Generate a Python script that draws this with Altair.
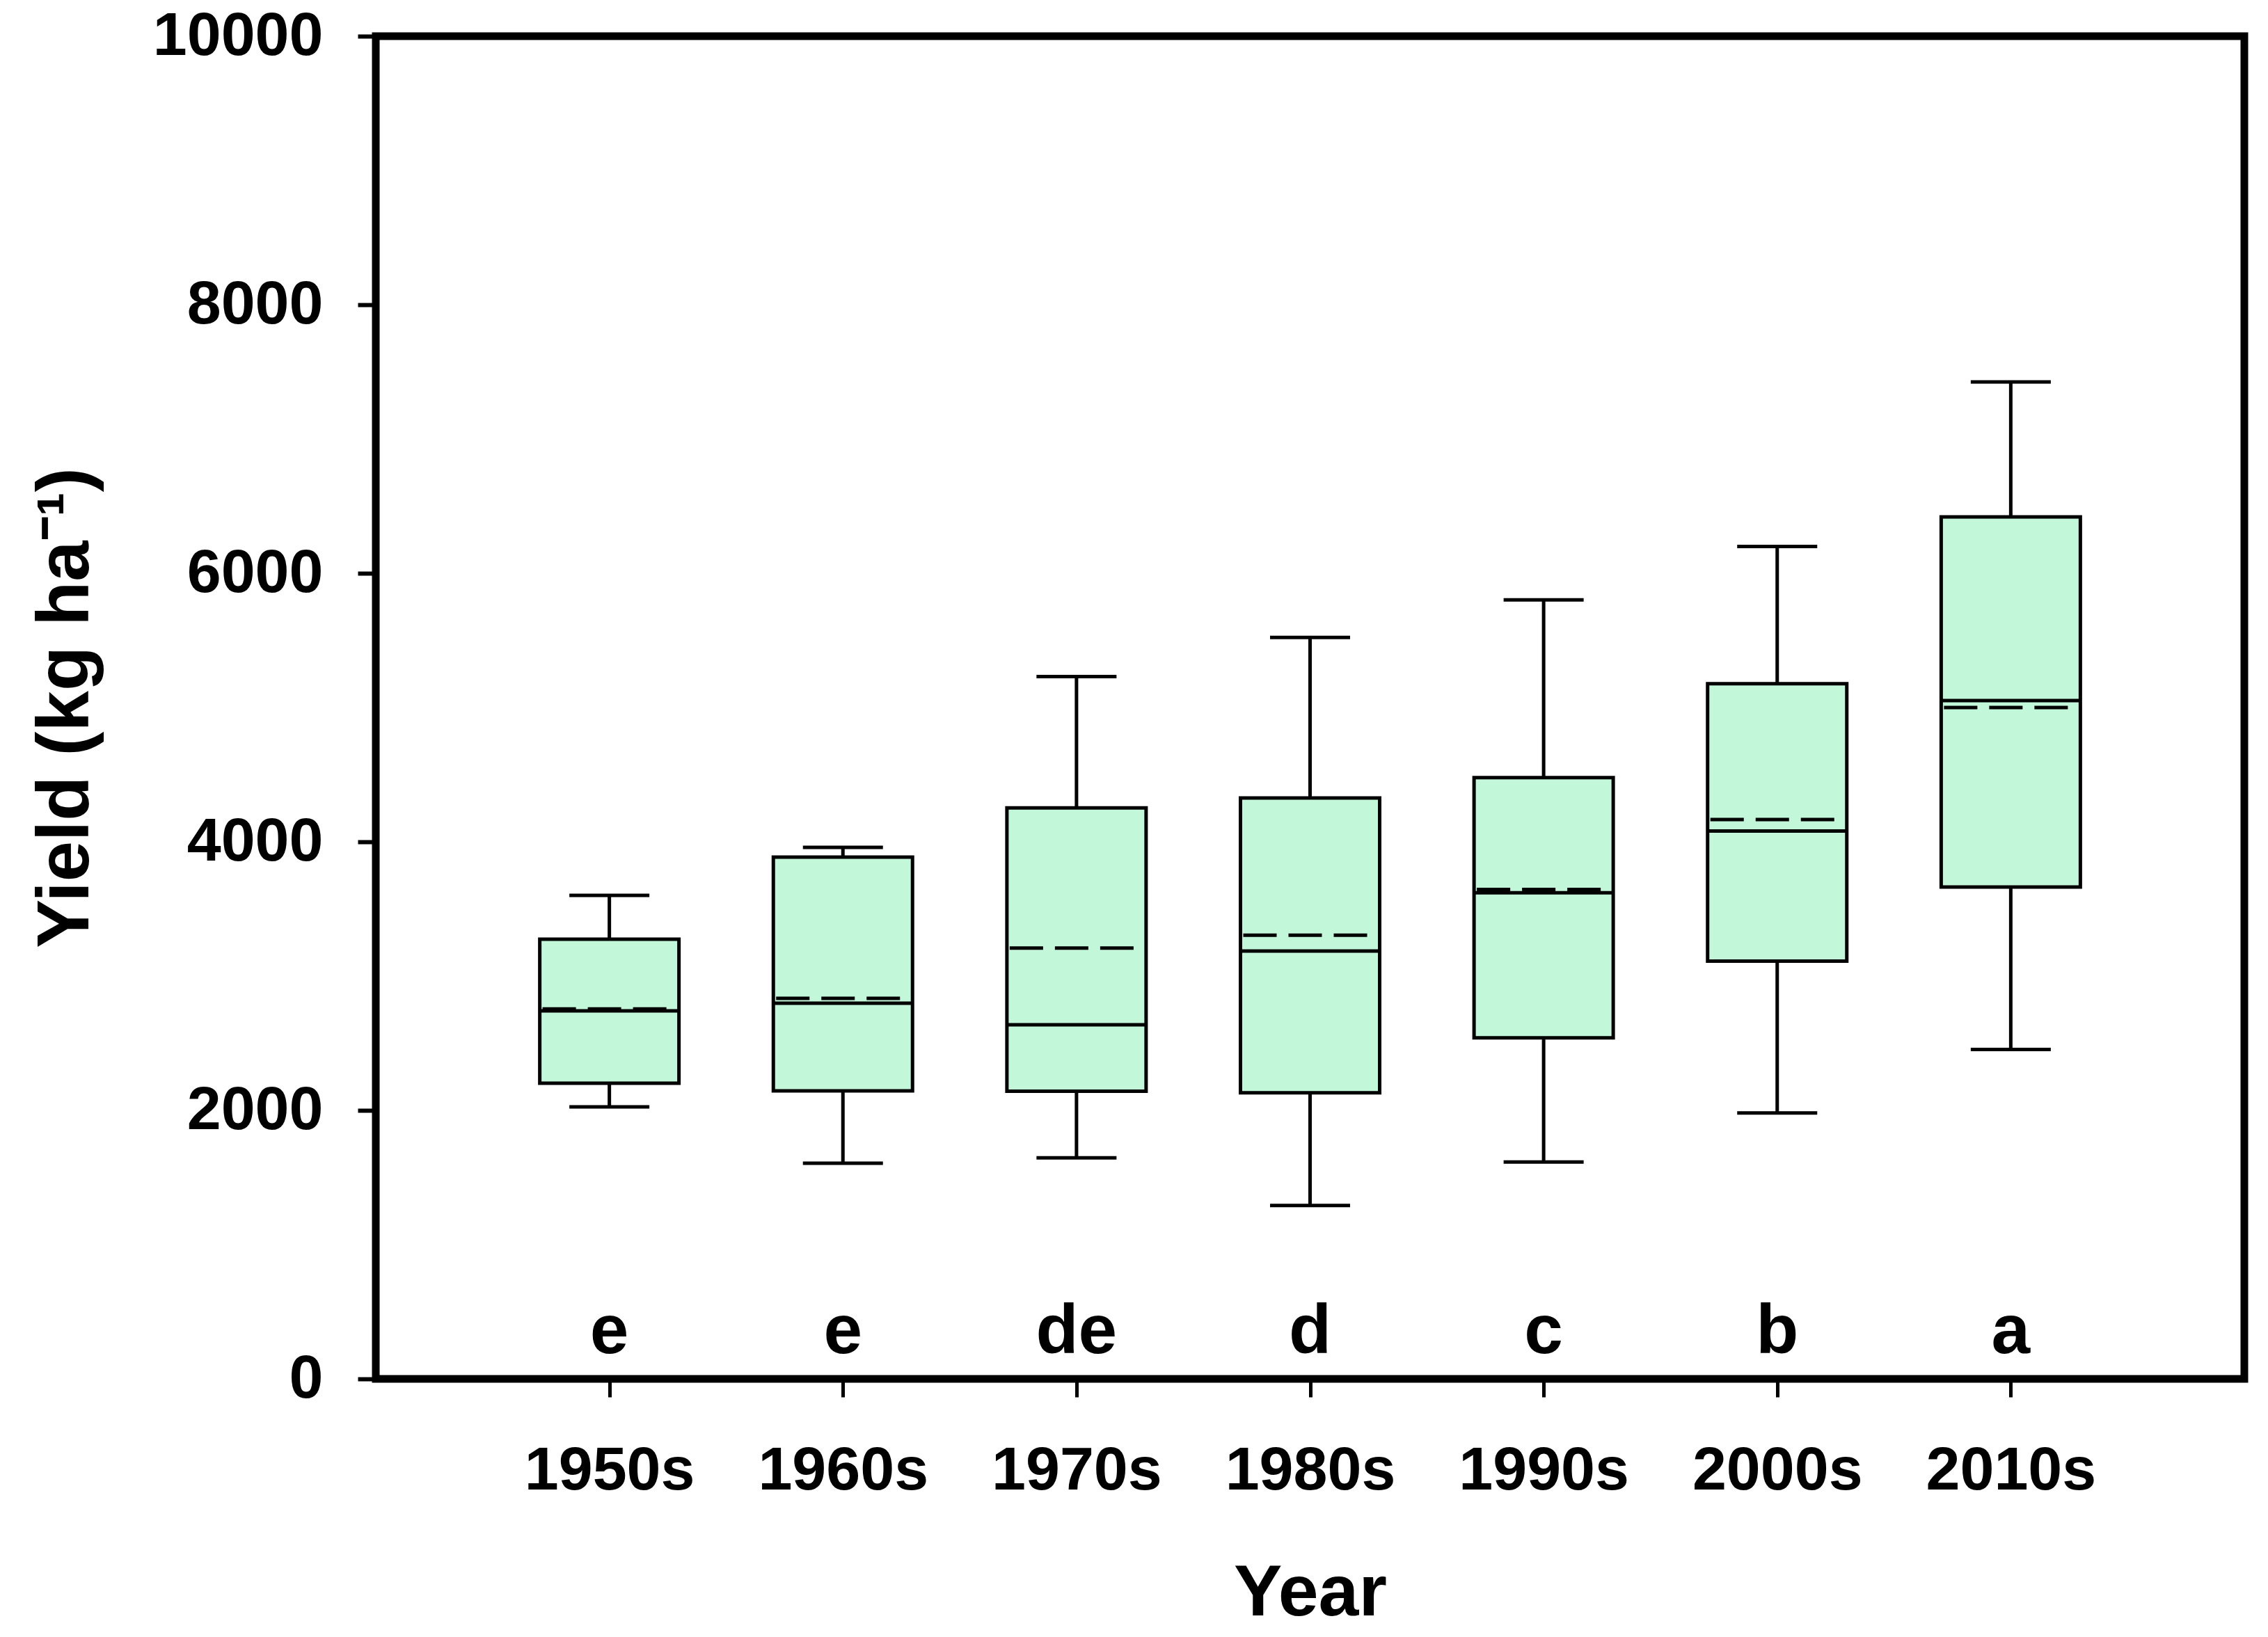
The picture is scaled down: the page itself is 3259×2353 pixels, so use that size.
import altair as alt
import pandas as pd

decades = ["1950s", "1960s", "1970s", "1980s", "1990s", "2000s", "2010s"]
whisker_low = [2026, 1606, 1647, 1292, 1615, 1981, 2454]
q1 = [2202, 2145, 2142, 2131, 2540, 3111, 3663]
median = [2741, 2798, 2637, 3186, 3620, 4080, 5052]
mean = [2755, 2834, 3208, 3305, 3645, 4166, 5000]
q3 = [3275, 3886, 4252, 4327, 4478, 5178, 6420]
whisker_high = [3601, 3959, 5231, 5522, 5802, 6200, 7425]
letters = ["e", "e", "de", "d", "c", "b", "a"]
letter_level = 190
y_ticks = [0, 2000, 4000, 6000, 8000, 10000]

df = pd.DataFrame({
    "decade": decades, "lo": whisker_low, "q1": q1, "median": median,
    "mean": mean, "q3": q3, "hi": whisker_high, "letter": letters,
})

FONT = "Liberation Sans"
YTITLE = "Yield (kg ha\u207b\u00b9)"

xscale = alt.Scale(type="point", padding=1, domain=decades)
yscale = alt.Scale(domain=[0, 10000], nice=False, zero=True)

xaxis = alt.Axis(
    title="Year", labelAngle=0, tickSize=26, tickWidth=5, tickColor="black",
    labelFont=FONT, labelFontSize=88, labelFontWeight="bold", labelColor="black",
    labelPadding=62, labelLimit=0, titleFont=FONT, titleFontSize=104,
    titleFontWeight="bold", titleColor="black", titleBaseline="alphabetic",
    titleY=339, domain=False, grid=False,
)
yaxis = alt.Axis(
    title=YTITLE, values=y_ticks, format="d", tickSize=26, tickWidth=6,
    tickColor="black", labelFont=FONT, labelFontSize=88, labelFontWeight="bold",
    labelColor="black", labelPadding=50, labelLimit=0, titleFont=FONT,
    titleFontSize=105, titleFontWeight="bold", titleColor="black",
    titleBaseline="alphabetic", titleX=-414, titleY=965, domain=False, grid=False,
)


def X():
    return alt.X("decade:N", scale=xscale, axis=xaxis, sort=decades, title="Year")


def Y(field):
    return alt.Y(f"{field}:Q", scale=yscale, axis=yaxis, title=YTITLE)


base = alt.Chart(df)

whiskers = base.mark_rule(color="black", strokeWidth=5).encode(
    x=X(), y=Y("lo"), y2="hi"
)
box = base.mark_bar(size=200, fill="#C2F7DA", stroke="black", strokeWidth=5).encode(
    x=X(), y=Y("q1"), y2="q3"
)
med = base.mark_tick(size=198, thickness=5, color="black", opacity=1).encode(
    x=X(), y=Y("median")
)
mean_line = base.mark_rule(
    color="black", strokeWidth=5, strokeDash=[48, 17], xOffset=-96, x2Offset=96
).encode(x=X(), x2="decade", y=Y("mean"))
cap_lo = base.mark_tick(size=115, thickness=5, color="black", opacity=1).encode(
    x=X(), y=Y("lo")
)
cap_hi = base.mark_tick(size=115, thickness=5, color="black", opacity=1).encode(
    x=X(), y=Y("hi")
)
text = base.mark_text(
    font=FONT, fontSize=100, fontWeight="bold", baseline="alphabetic",
    align="center", color="black",
).encode(x=X(), y=alt.Y(datum=letter_level, scale=yscale, axis=yaxis, title=YTITLE),
         text="letter:N")

chart = alt.layer(whiskers, box, med, mean_line, cap_lo, cap_hi, text).properties(
    width=2685, height=1930,
    autosize=alt.AutoSizeParams(type="none"),
    padding={"left": 532, "top": 44, "right": 20, "bottom": 362},
).configure(background="white").configure_view(stroke="black", strokeWidth=11)

chart.save("out.html", embed_options={"renderer": "svg", "actions": False})
